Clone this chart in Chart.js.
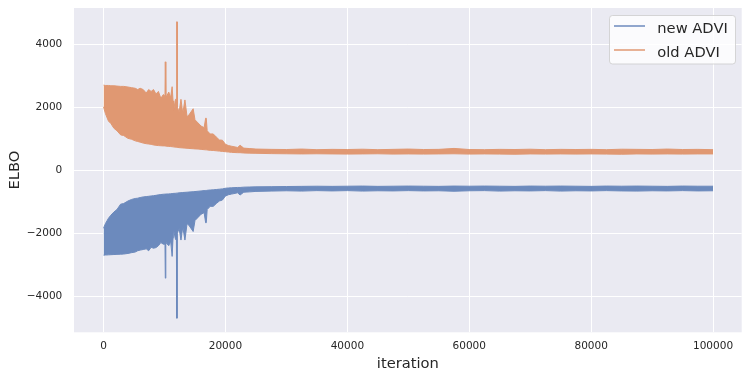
<!DOCTYPE html>
<html>
<head>
<meta charset="utf-8">
<script src="https://cdn.jsdelivr.net/npm/chart.js@4.4.1/dist/chart.umd.min.js"></script>
<style>
  html, body { margin: 0; padding: 0; background: #ffffff; }
  #c { display: block; }
</style>
</head>
<body>
<canvas id="c" width="749" height="379"></canvas>
<script>
// ---- data (envelope of the noisy ELBO traces) ----
const ITER = [
  0, 300, 800, 1200, 1700, 2200, 2800, 3300, 4000, 4600, 5200, 5600, 6000, 6500, 7000, 7400, 7800, 8200, 8600, 9000, 9400, 9800,
  10080, 10130, 10190, 10240,
  10700, 11000, 11250, 11320, 11400, 11500, 11800,
  11950, 12000, 12060, 12110,
  12400, 12700, 13000, 13350, 13700, 14000, 14700, 15000, 15500, 16000, 16500, 16750, 16850, 17000, 17500, 18000, 18500, 19000, 19500, 20000, 20500, 21000, 22000, 22400, 23000, 24000, 25000,
  27500, 30000, 32500, 35000, 37500, 40000, 42500, 45000, 47500, 50000, 52500, 55000, 57500, 60000, 62500, 65000, 67500, 70000, 72500, 75000, 77500, 80000, 82500, 85000, 87500, 90000, 92500, 95000, 97500, 100000
];
const OLD_HIGH = [
  2700, 2690, 2690, 2680, 2680, 2670, 2660, 2660, 2640, 2620, 2600, 2560, 2600, 2560, 2450, 2560, 2500, 2560, 2420, 2500, 2280, 2400,
  2350, 3440, 3440, 2300,
  2480, 2300, 2650, 2650, 2200, 1900, 2250,
  2250, 4710, 4710, 2000,
  1850, 2250, 1800, 2230, 1700, 1750, 1950, 1600, 1500, 1400, 1350, 1650, 1650, 1250, 1150, 1150, 1050, 960, 950, 820, 780, 760, 720, 790, 700, 685, 670,
  660, 655, 670, 650, 660, 655, 665, 650, 660, 670, 655, 660, 690, 655, 650, 660, 655, 665, 650, 660, 655, 660, 650, 665, 660, 655, 670, 655, 660, 650
];
const OLD_LOW = [
  2010, 1800, 1560, 1480, 1330, 1250, 1120, 1100, 1010, 980, 930, 910, 890, 860, 840, 830, 820, 800, 790, 780, 775, 770,
  770, 765, 765, 765,
  755, 750, 745, 745, 740, 740, 730,
  725, 725, 725, 725,
  715, 710, 705, 700, 695, 690, 680, 675, 670, 660, 650, 645, 645, 640, 630, 625, 615, 605, 595, 585, 575, 565, 555, 555, 545, 540, 535,
  525, 520, 515, 520, 515, 510, 515, 520, 510, 515, 510, 515, 520, 510, 515, 510, 505, 515, 510, 515, 510, 515, 510, 505, 515, 510, 515, 510, 515, 515
];
const NEW_HIGH = [
  -1845, -1700, -1530, -1430, -1330, -1250, -1080, -1060, -980, -930, -900, -890, -870, -850, -840, -830, -820, -810, -800, -785, -775, -765,
  -762, -760, -760, -760,
  -755, -750, -745, -745, -740, -740, -735,
  -730, -730, -730, -730,
  -720, -715, -710, -705, -700, -695, -685, -680, -670, -660, -650, -645, -645, -640, -630, -625, -615, -605, -595, -575, -565, -560, -550, -550, -540, -535, -530,
  -525, -520, -515, -510, -515, -510, -505, -515, -510, -505, -510, -515, -505, -510, -505, -510, -515, -505, -510, -505, -510, -515, -505, -510, -505, -510, -515, -505, -510, -510
];
const NEW_LOW = [
  -2700, -2695, -2690, -2685, -2680, -2675, -2670, -2665, -2645, -2620, -2600, -2560, -2540, -2520, -2500, -2560, -2450, -2480, -2460, -2400, -2300, -2350,
  -2350, -3430, -3430, -2300,
  -2400, -2250, -2740, -2740, -2150, -1900, -2200,
  -2200, -4700, -4700, -2000,
  -1850, -2220, -1800, -2220, -1700, -1750, -1950, -1600, -1500, -1400, -1350, -1670, -1670, -1250, -1150, -1150, -1060, -980, -950, -820, -780, -760, -720, -790, -700, -690, -675,
  -665, -655, -665, -650, -660, -650, -665, -655, -660, -650, -660, -655, -670, -655, -650, -665, -655, -660, -650, -665, -655, -660, -650, -660, -665, -655, -660, -650, -660, -655
];
const SERIES_NAMES = ['new ADVI', 'old ADVI'];
const X_TICKS = [0, 20000, 40000, 60000, 80000, 100000];
const Y_TICKS = [-4000, -2000, 0, 2000, 4000];

const BLUE = '#6C8ABD';
const ORANGE = '#E09872';
const TEXT = '#262626';
const FONT = 'DejaVu Sans';

const pts = (ys) => ITER.map((x, i) => ({x: x, y: ys[i]}));

const bgPlugin = {
  id: 'bg',
  beforeDraw(chart) {
    const {ctx, chartArea: a} = chart;
    ctx.save();
    ctx.fillStyle = '#EAEAF2';
    ctx.fillRect(a.left, a.top, a.right - a.left, a.bottom - a.top);
    ctx.restore();
  }
};

const legendPlugin = {
  id: 'boxLegend',
  afterDraw(chart) {
    const ctx = chart.ctx;
    const items = chart.data.datasets.filter(d => d.inLegend);
    const x0 = 609.5, y0 = 15.5, w = 126, h = 48.5, r = 3;
    ctx.save();
    ctx.beginPath();
    ctx.moveTo(x0 + r, y0);
    ctx.lineTo(x0 + w - r, y0);
    ctx.arcTo(x0 + w, y0, x0 + w, y0 + r, r);
    ctx.lineTo(x0 + w, y0 + h - r);
    ctx.arcTo(x0 + w, y0 + h, x0 + w - r, y0 + h, r);
    ctx.lineTo(x0 + r, y0 + h);
    ctx.arcTo(x0, y0 + h, x0, y0 + h - r, r);
    ctx.lineTo(x0, y0 + r);
    ctx.arcTo(x0, y0, x0 + r, y0, r);
    ctx.closePath();
    ctx.fillStyle = 'rgba(255,255,255,0.8)';
    ctx.fill();
    ctx.strokeStyle = 'rgba(204,204,204,0.8)';
    ctx.lineWidth = 1;
    ctx.stroke();
    items.forEach((d, i) => {
      const ly = 26 + i * 24;
      ctx.beginPath();
      ctx.moveTo(614, ly);
      ctx.lineTo(645, ly);
      ctx.strokeStyle = d.borderColor;
      ctx.lineWidth = 1.5;
      ctx.stroke();
      ctx.fillStyle = TEXT;
      ctx.font = '14.7px "' + FONT + '"';
      ctx.textAlign = 'left';
      ctx.textBaseline = 'alphabetic';
      ctx.fillText(d.label, 657.3, 33.3 + i * 24);
    });
    ctx.restore();
  }
};

const fmt = (v) => (v < 0 ? '\u2212' + Math.abs(v) : String(v));

new Chart(document.getElementById('c'), {
  type: 'line',
  data: {
    datasets: [
      {label: SERIES_NAMES[0], inLegend: true, data: pts(NEW_HIGH), fill: '+1',
       borderColor: BLUE, backgroundColor: BLUE, borderWidth: 1, pointRadius: 0, tension: 0},
      {label: SERIES_NAMES[0] + ' low', inLegend: false, data: pts(NEW_LOW), fill: false,
       borderColor: BLUE, backgroundColor: BLUE, borderWidth: 1, pointRadius: 0, tension: 0},
      {label: SERIES_NAMES[1], inLegend: true, data: pts(OLD_HIGH), fill: '+1',
       borderColor: ORANGE, backgroundColor: ORANGE, borderWidth: 1, pointRadius: 0, tension: 0},
      {label: SERIES_NAMES[1] + ' low', inLegend: false, data: pts(OLD_LOW), fill: false,
       borderColor: ORANGE, backgroundColor: ORANGE, borderWidth: 1, pointRadius: 0, tension: 0}
    ]
  },
  options: {
    responsive: false,
    animation: false,
    devicePixelRatio: 1,
    layout: {padding: {top: 8, right: 7.3, left: 0, bottom: 0}},
    plugins: {legend: {display: false}, tooltip: {enabled: false}, filler: {propagate: false}},
    scales: {
      x: {
        type: 'linear', min: -4850, max: 104700,
        afterBuildTicks: s => { s.ticks = X_TICKS.map(v => ({value: v})); },
        afterFit: s => { s.height = 46.7; s.paddingLeft = 0; s.paddingRight = 0; },
        grid: {color: '#ffffff', lineWidth: 1, drawTicks: false},
        border: {display: false},
        ticks: {padding: 8.1, maxRotation: 0, autoSkip: false, color: TEXT,
                font: {family: FONT, size: 10.5}, callback: v => String(v)},
        title: {display: true, text: 'iteration', color: TEXT,
                font: {family: FONT, size: 14.7}, padding: {top: 0, bottom: 6.2}}
      },
      y: {
        type: 'linear', min: -5150, max: 5150,
        afterBuildTicks: s => { s.ticks = Y_TICKS.map(v => ({value: v})); },
        afterFit: s => { s.width = 74; s.paddingTop = 0; s.paddingBottom = 0; },
        grid: {color: '#ffffff', lineWidth: 1, drawTicks: false},
        border: {display: false},
        ticks: {padding: 11.7, autoSkip: false, color: TEXT,
                font: {family: FONT, size: 10.5}, callback: v => fmt(v)},
        title: {display: true, text: 'ELBO', color: TEXT,
                font: {family: FONT, size: 14.7}, padding: {top: 6.2, bottom: 0}}
      }
    }
  },
  plugins: [bgPlugin, legendPlugin]
});
</script>
</body>
</html>
